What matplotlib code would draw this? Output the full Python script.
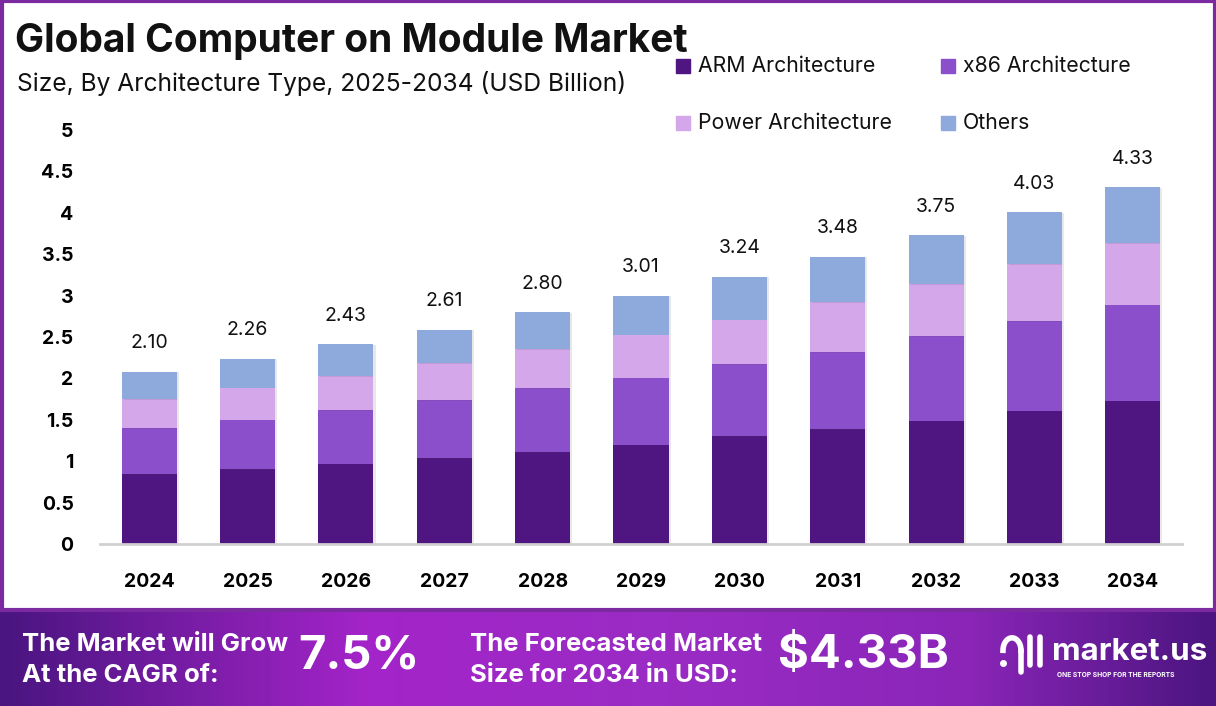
import numpy as np
import matplotlib
matplotlib.use("Agg")
import matplotlib.pyplot as plt
import matplotlib.patches as mpatches
import matplotlib.patheffects as pe
from matplotlib.colors import LinearSegmentedColormap

# data (USD Billion)
years = ["2024", "2025", "2026", "2027", "2028", "2029", "2030", "2031", "2032", "2033", "2034"]
arm = [0.84, 0.90, 0.97, 1.04, 1.11, 1.20, 1.30, 1.39, 1.49, 1.61, 1.73]
x86 = [0.56, 0.60, 0.65, 0.70, 0.77, 0.81, 0.87, 0.93, 1.02, 1.08, 1.16]
power = [0.35, 0.39, 0.41, 0.44, 0.47, 0.52, 0.54, 0.60, 0.63, 0.69, 0.74]
others = [0.33, 0.35, 0.38, 0.41, 0.45, 0.47, 0.52, 0.55, 0.59, 0.63, 0.68]
totals = [2.10, 2.26, 2.43, 2.61, 2.80, 3.01, 3.24, 3.48, 3.75, 4.03, 4.33]
series_names = ["ARM Architecture", "x86 Architecture", "Power Architecture", "Others"]
colors = ["#4f1681", "#8c4fcc", "#d3a7ea", "#8eaadc"]
y_ticks = [0, 0.5, 1, 1.5, 2, 2.5, 3, 3.5, 4, 4.5, 5]
cagr = "7.5%"
forecast = "$4.33B"

plt.rcParams['font.family'] = ['Inter', 'DejaVu Sans']

W, H = 1216, 706
fig = plt.figure(figsize=(W / 100, H / 100), dpi=100)
fig.patch.set_facecolor("white")

# frame around the white part
frame = mpatches.Rectangle((1.5 / W, 96 / H), 1 - 3 / W, 1 - 97.5 / H, transform=fig.transFigure,
                           fill=False, edgecolor="#7b2aa0", linewidth=3, zorder=0)
fig.patches.append(frame)

# main chart
ax = fig.add_axes([100 / W, (H - 544) / H, 1082 / W, 414 / H])
x = np.arange(len(years))
bottom = np.zeros(len(years))
shadow = [pe.SimplePatchShadow(offset=(1.5, -0.5), alpha=0.12, shadow_rgbFace="#444444"), pe.Normal()]
for vals, name, c in zip([arm, x86, power, others], series_names, colors):
    bars = ax.bar(x, vals, width=0.56, bottom=bottom, color=c, label=name, zorder=2)
    for b in bars:
        b.set_path_effects(shadow)
    bottom += np.array(vals)

for xi, top, t in zip(x, bottom, totals):
    ax.annotate(f"{t:.2f}", (xi, top), xytext=(0, 14), textcoords="offset points",
                ha="center", va="bottom", fontsize=14, color="#111111")

ax.set_xlim(-0.5, 10.5)
ax.set_ylim(0, 5)
ax.set_xticks(x)
ax.set_xticklabels(years, fontsize=14, fontweight="bold")
ax.set_yticks(y_ticks)
ax.set_yticklabels([f"{v:g}" for v in y_ticks], fontsize=14, fontweight="bold")
ax.tick_params(axis="x", length=0, pad=21)
ax.tick_params(axis="y", length=0, pad=19)
for s in ["top", "right", "left"]:
    ax.spines[s].set_visible(False)
ax.spines["bottom"].set_color("#d0d0d0")
ax.spines["bottom"].set_linewidth(2)
ax.patch.set_alpha(0)

# titles
fig.text(15 / W, 1 - 41 / H, "Global Computer on Module Market", fontsize=28, fontweight="bold",
         ha="left", va="center", color="#111111")
fig.text(17 / W, 1 - 84 / H, "Size, By Architecture Type, 2025-2034 (USD Billion)", fontsize=17.7,
         ha="left", va="center", color="#111111")

# legend drawn by hand in two rows
leg_pos = [(676, 66), (941, 66), (676, 123), (941, 123)]
for (lx, ly), name, c in zip(leg_pos, series_names, colors):
    fig.patches.append(mpatches.Rectangle((lx / W, 1 - (ly + 7) / H), 14 / W, 14 / H,
                                          transform=fig.transFigure, color=c))
    fig.text((lx + 22) / W, 1 - ly / H, name, fontsize=15.3, ha="left", va="center", color="#111111")

# footer band with gradient
fax = fig.add_axes([0, 0, 1, 96 / H])
fax.set_axis_off()
grad_cmap = LinearSegmentedColormap.from_list(
    "band", [(0, "#4a1580"), (0.3, "#a424c9"), (0.55, "#9a2cc4"), (0.8, "#8a25b8"), (1, "#4c1580")])
fax.imshow(np.linspace(0, 1, 400)[None, :], aspect="auto", cmap=grad_cmap, extent=[0, 1, 0, 1])
fax.set_xlim(0, 1)
fax.set_ylim(0, 1)

fax.text(22 / W, 0.64, "The Market will Grow", fontsize=18.5, fontweight="bold", color="white",
         ha="left", va="center")
fax.text(22 / W, 0.32, "At the CAGR of:", fontsize=18.5, fontweight="bold", color="white",
         ha="left", va="center")
fax.text(298 / W, 0.52, cagr, fontsize=34, fontweight="bold", color="white", ha="left", va="center")
fax.text(470 / W, 0.64, "The Forecasted Market", fontsize=18.5, fontweight="bold", color="white",
         ha="left", va="center")
fax.text(470 / W, 0.32, "Size for 2034 in USD:", fontsize=18.5, fontweight="bold", color="white",
         ha="left", va="center")
fax.text(778 / W, 0.52, forecast, fontsize=34, fontweight="bold", color="white", ha="left", va="center")

# logo
fax.text(1052 / W, 0.56, "market.us", fontsize=22.5, fontweight="bold", color="white", ha="left", va="center")
fax.text(1057 / W, 0.32, "ONE STOP SHOP FOR THE REPORTS", fontsize=4.8, fontweight="bold",
         color="white", ha="left", va="center")
fax.plot([1030 / W, 1030 / W], [0.43, 0.72], color="white", lw=4, solid_capstyle="round")
fax.plot([1040 / W, 1040 / W], [0.43, 0.72], color="white", lw=4, solid_capstyle="round")
th = np.linspace(0, np.pi, 30)
fax.plot(1012 / W + 9 / W * np.cos(th), 0.58 + 0.13 * np.sin(th), color="white", lw=4)
fax.plot([1021 / W, 1021 / W], [0.58, 0.35], color="white", lw=4, solid_capstyle="round")
fax.plot(1003 / W, 0.45, "o", color="white", ms=4)

fig.savefig("out.png", dpi=100)
